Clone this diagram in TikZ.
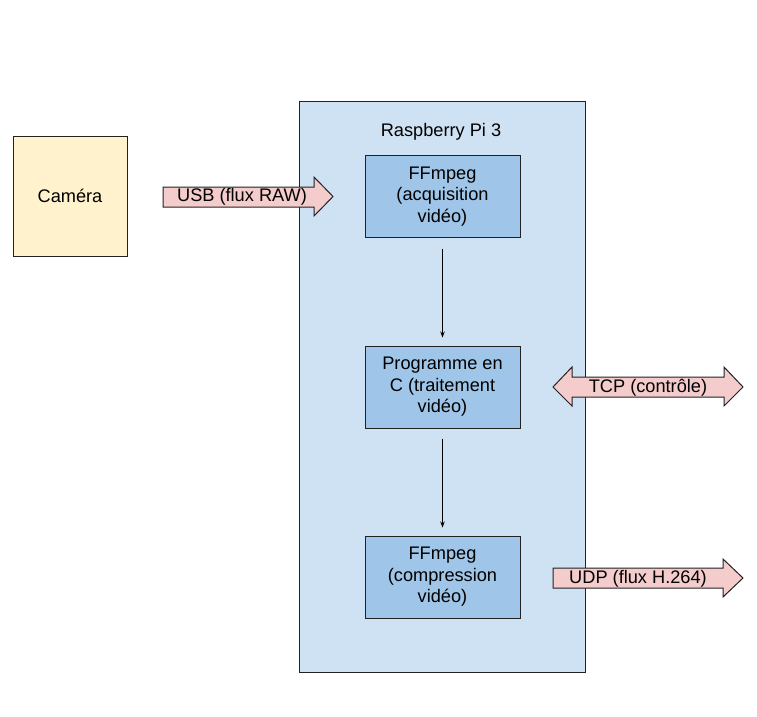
\documentclass[tikz,border=0pt]{standalone}
\usepackage{fontspec}
\setmainfont{Liberation Sans}
\usetikzlibrary{arrows.meta}
\definecolor{camfill}{HTML}{FFF2CC}
\definecolor{pifill}{HTML}{CFE2F3}
\definecolor{boxfill}{HTML}{9FC5E8}
\definecolor{arrfill}{HTML}{F4CCCC}
\definecolor{edge}{HTML}{222222}
\tikzset{
  txt/.style={font=\fontsize{18.2}{21.5}\selectfont, text=black, align=center, inner sep=0pt},
  procbox/.style={draw=edge, line width=1pt, fill=boxfill, minimum width=155pt, minimum height=82pt, txt},
  blockarrow/.style={draw=edge, line width=1pt, fill=arrfill, line join=miter},
  flow/.style={draw=black, line width=0.8pt, -{Stealth[length=6pt,width=4.5pt]}}
}
\begin{document}
\begin{tikzpicture}[x=1pt,y=-1pt]
\useasboundingbox (0,0) rectangle (757,716);
% Camera
\node[draw=edge, line width=1pt, fill=camfill, minimum width=114pt, minimum height=120pt, txt] (cam) at (70,196) {Caméra};
% Raspberry Pi
\node[draw=edge, line width=1pt, fill=pifill, minimum width=286pt, minimum height=571pt] (pi) at (442,386.5) {};
\node[txt] (pititle) at (441,132) {Raspberry Pi 3};
% processes
\node[procbox] (acq) at (442.5,196.5) {FFmpeg\\(acquisition\\vidéo)};
\node[procbox] (prog) at (442.5,387) {Programme en\\C (traitement\\vidéo)};
\node[procbox] (comp) at (442.5,577) {FFmpeg\\(compression\\vidéo)};
\draw[flow, shorten <=11pt, shorten >=8pt] (acq.south) -- (prog.north);
\draw[flow, shorten <=10pt, shorten >=8pt] (prog.south) -- (comp.north);
% USB arrow
\draw[blockarrow] (163,187) -- (314,187) -- (314,177) -- (333,196.5) -- (314,216) -- (314,207) -- (163,207) -- cycle;
\node[txt] (usb) at (242,197) {USB (flux RAW)};
% TCP double arrow
\draw[blockarrow] (553,387) -- (572,367) -- (572,377) -- (724,377) -- (724,367) -- (743,387) -- (724,406) -- (724,397) -- (572,397) -- (572,406) -- cycle;
\node[txt] (tcp) at (648,387.5) {TCP (contrôle)};
% UDP arrow
\draw[blockarrow] (553,568) -- (723,568) -- (723,559) -- (743,578) -- (723,597) -- (723,588) -- (553,588) -- cycle;
\node[txt] (udp) at (638,578.5) {UDP (flux H.264)};
\end{tikzpicture}
\end{document}
